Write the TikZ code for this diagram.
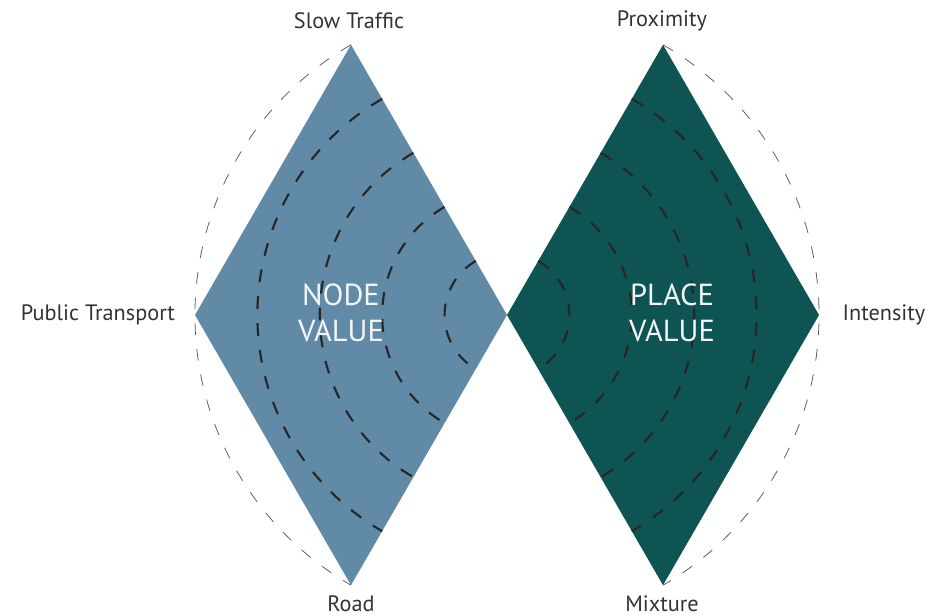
\documentclass[tikz,border=0pt]{standalone}
\usepackage{fontspec}
\setmainfont{PT Sans}
\definecolor{nodeblue}{RGB}{96,138,165}
\definecolor{placegreen}{RGB}{13,84,83}
\begin{document}
\begin{tikzpicture}[x=0.03cm,y=0.03cm,
  thindash/.style={black!65, line width=0.65pt, dash pattern=on 10pt off 12pt},
  bolddash/.style={black!85, line width=1.8pt, dash pattern=on 11pt off 12pt},
  lbl/.style={text=black!80, font=\fontsize{19}{22}\selectfont},
  valtext/.style={text=white!92!nodeblue, align=center, font=\fontsize{26}{30.7}\selectfont}]
\useasboundingbox (-507,-301) rectangle (434,315);
\coordinate (m) at (0,0);
\fill[nodeblue] (m) -- (120:312) -- (180:312) -- (240:312) -- cycle;
\fill[placegreen] (m) -- (60:312) -- (0:312) -- (-60:312) -- cycle;
\foreach \r in {62.4,124.8,187.2,249.6}{
  \draw[bolddash] (120:\r) arc (120:240:\r);
  \draw[bolddash] (60:\r) arc (60:-60:\r);
}
\draw[thindash] (120:312) arc (120:240:312);
\draw[thindash] (60:312) arc (60:-60:312);
\node[lbl] (slow) at (-158,294) {Slow Traffic};
\node[lbl] (road) at (-156,-289) {Road};
\node[lbl] (prox) at (155,294) {Proximity};
\node[lbl] (mix) at (155,-289) {Mixture};
\node[lbl] (pub) at (-409,0) {Public Transport};
\node[lbl] (int) at (377,0) {Intensity};
\node[valtext] (nv) at (-166,2) {NODE\\VALUE};
\node[valtext] (pv) at (165,2) {PLACE\\VALUE};
\end{tikzpicture}
\end{document}
